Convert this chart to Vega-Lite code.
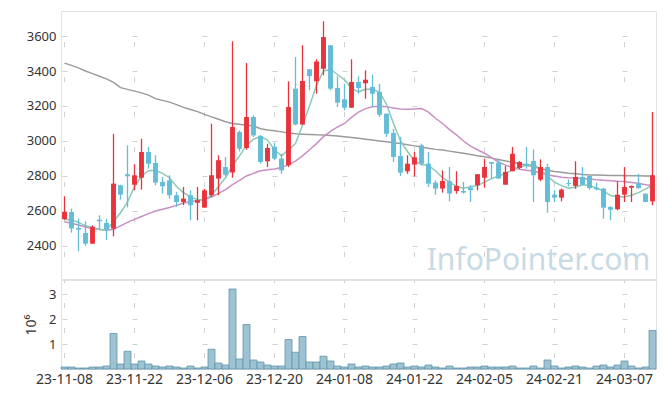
{
  "$schema": "https://vega.github.io/schema/vega-lite/v6.json",
  "padding": {"left": 24, "top": 10, "right": 8, "bottom": 0},
  "spacing": -3,
  "config": {
    "view": {"stroke": "#e2e2e2"},
    "font": "Noto Sans",
    "axis": {"labelFont": "Noto Sans", "labelColor": "#333333", "labelFontSize": 13, "gridColor": "#d0d0d0", "titleFont": "Noto Sans", "titleColor": "#333333"}
  },
  "data": {"values": [
    {"d":"23-11-08","o":2553,"h":2684,"l":2550,"c":2594,"v":80000,"m5":2553,"m20":2538,"m120":3445},
    {"d":"23-11-09","o":2594,"h":2613,"l":2476,"c":2500,"v":80000,"m5":2548,"m20":2530,"m120":3432},
    {"d":"23-11-10","o":2503,"h":2556,"l":2370,"c":2493,"v":40000,"m5":2535,"m20":2520,"m120":3418},
    {"d":"23-11-13","o":2474,"h":2541,"l":2400,"c":2413,"v":40000,"m5":2515,"m20":2508,"m120":3400},
    {"d":"23-11-14","o":2413,"h":2518,"l":2413,"c":2509,"v":80000,"m5":2505,"m20":2500,"m120":3385},
    {"d":"23-11-15","o":2550,"h":2575,"l":2493,"c":2541,"v":80000,"m5":2495,"m20":2494,"m120":3370},
    {"d":"23-11-16","o":2531,"h":2556,"l":2433,"c":2493,"v":120000,"m5":2490,"m20":2490,"m120":3355},
    {"d":"23-11-17","o":2499,"h":3041,"l":2455,"c":2756,"v":1420000,"m5":2540,"m20":2495,"m120":3335},
    {"d":"23-11-20","o":2747,"h":2750,"l":2665,"c":2693,"v":200000,"m5":2590,"m20":2515,"m120":3305},
    {"d":"23-11-21","o":2810,"h":2975,"l":2620,"c":2798,"v":710000,"m5":2650,"m20":2535,"m120":3295},
    {"d":"23-11-22","o":2750,"h":2867,"l":2718,"c":2804,"v":200000,"m5":2740,"m20":2552,"m120":3285},
    {"d":"23-11-23","o":2790,"h":3013,"l":2722,"c":2937,"v":320000,"m5":2800,"m20":2568,"m120":3275},
    {"d":"23-11-24","o":2937,"h":2966,"l":2842,"c":2870,"v":200000,"m5":2830,"m20":2585,"m120":3262},
    {"d":"23-11-27","o":2874,"h":2918,"l":2747,"c":2762,"v":120000,"m5":2833,"m20":2600,"m120":3242},
    {"d":"23-11-28","o":2766,"h":2794,"l":2699,"c":2741,"v":80000,"m5":2815,"m20":2610,"m120":3232},
    {"d":"23-11-29","o":2775,"h":2804,"l":2670,"c":2690,"v":120000,"m5":2790,"m20":2620,"m120":3222},
    {"d":"23-11-30","o":2690,"h":2709,"l":2623,"c":2651,"v":80000,"m5":2740,"m20":2632,"m120":3208},
    {"d":"23-12-01","o":2651,"h":2737,"l":2633,"c":2670,"v":40000,"m5":2705,"m20":2645,"m120":3192},
    {"d":"23-12-04","o":2690,"h":2718,"l":2547,"c":2633,"v":120000,"m5":2680,"m20":2652,"m120":3180},
    {"d":"23-12-05","o":2647,"h":2737,"l":2547,"c":2661,"v":40000,"m5":2665,"m20":2660,"m120":3168},
    {"d":"23-12-06","o":2619,"h":2727,"l":2619,"c":2718,"v":80000,"m5":2662,"m20":2667,"m120":3152},
    {"d":"23-12-07","o":2690,"h":3099,"l":2680,"c":2804,"v":790000,"m5":2690,"m20":2680,"m120":3138},
    {"d":"23-12-08","o":2785,"h":2918,"l":2690,"c":2890,"v":240000,"m5":2740,"m20":2700,"m120":3124},
    {"d":"23-12-11","o":2851,"h":2908,"l":2800,"c":2807,"v":160000,"m5":2790,"m20":2722,"m120":3110},
    {"d":"23-12-12","o":2820,"h":3570,"l":2790,"c":3080,"v":3200000,"m5":2860,"m20":2750,"m120":3100},
    {"d":"23-12-13","o":3051,"h":3060,"l":2940,"c":2956,"v":400000,"m5":2915,"m20":2775,"m120":3095},
    {"d":"23-12-14","o":2960,"h":3446,"l":2950,"c":3137,"v":1780000,"m5":2975,"m20":2800,"m120":3090},
    {"d":"23-12-15","o":3137,"h":3147,"l":3023,"c":3032,"v":360000,"m5":3010,"m20":2815,"m120":3086},
    {"d":"23-12-18","o":3029,"h":3035,"l":2870,"c":2880,"v":280000,"m5":3025,"m20":2830,"m120":3070},
    {"d":"23-12-19","o":2884,"h":2984,"l":2851,"c":2960,"v":160000,"m5":3005,"m20":2836,"m120":3063},
    {"d":"23-12-20","o":2966,"h":2990,"l":2890,"c":2899,"v":120000,"m5":2950,"m20":2840,"m120":3058},
    {"d":"23-12-21","o":2899,"h":2927,"l":2813,"c":2832,"v":120000,"m5":2915,"m20":2848,"m120":3052},
    {"d":"23-12-22","o":2861,"h":3341,"l":2851,"c":3194,"v":1180000,"m5":2950,"m20":2865,"m120":3046},
    {"d":"23-12-26","o":3299,"h":3480,"l":3090,"c":3094,"v":670000,"m5":2985,"m20":2885,"m120":3041},
    {"d":"23-12-27","o":3094,"h":3547,"l":3094,"c":3343,"v":1300000,"m5":3090,"m20":2915,"m120":3039},
    {"d":"23-12-28","o":3410,"h":3410,"l":3290,"c":3371,"v":280000,"m5":3200,"m20":2950,"m120":3037},
    {"d":"24-01-02","o":3341,"h":3467,"l":3270,"c":3455,"v":280000,"m5":3318,"m20":2985,"m120":3035},
    {"d":"24-01-03","o":3413,"h":3684,"l":3376,"c":3594,"v":510000,"m5":3400,"m20":3025,"m120":3034},
    {"d":"24-01-04","o":3547,"h":3547,"l":3290,"c":3299,"v":320000,"m5":3410,"m20":3055,"m120":3032},
    {"d":"24-01-05","o":3303,"h":3371,"l":3194,"c":3219,"v":120000,"m5":3380,"m20":3080,"m120":3028},
    {"d":"24-01-08","o":3238,"h":3327,"l":3175,"c":3190,"v":80000,"m5":3350,"m20":3100,"m120":3024},
    {"d":"24-01-09","o":3190,"h":3467,"l":3190,"c":3337,"v":200000,"m5":3300,"m20":3135,"m120":3020},
    {"d":"24-01-10","o":3337,"h":3370,"l":3270,"c":3303,"v":80000,"m5":3280,"m20":3165,"m120":3015},
    {"d":"24-01-11","o":3330,"h":3404,"l":3242,"c":3350,"v":120000,"m5":3295,"m20":3185,"m120":3010},
    {"d":"24-01-12","o":3309,"h":3380,"l":3194,"c":3270,"v":80000,"m5":3295,"m20":3195,"m120":3005},
    {"d":"24-01-15","o":3280,"h":3327,"l":3137,"c":3150,"v":80000,"m5":3280,"m20":3198,"m120":3000},
    {"d":"24-01-16","o":3156,"h":3156,"l":3023,"c":3041,"v":120000,"m5":3210,"m20":3195,"m120":2995},
    {"d":"24-01-17","o":3046,"h":3070,"l":2880,"c":2909,"v":200000,"m5":3100,"m20":3188,"m120":2990},
    {"d":"24-01-18","o":2914,"h":3023,"l":2800,"c":2819,"v":240000,"m5":3000,"m20":3183,"m120":2985},
    {"d":"24-01-19","o":2827,"h":2918,"l":2813,"c":2870,"v":80000,"m5":2940,"m20":3181,"m120":2978},
    {"d":"24-01-22","o":2865,"h":2937,"l":2798,"c":2907,"v":120000,"m5":2885,"m20":3183,"m120":2972},
    {"d":"24-01-23","o":2975,"h":2985,"l":2861,"c":2870,"v":80000,"m5":2865,"m20":3185,"m120":2966},
    {"d":"24-01-24","o":2870,"h":2937,"l":2737,"c":2756,"v":160000,"m5":2860,"m20":3165,"m120":2958},
    {"d":"24-01-25","o":2762,"h":2775,"l":2693,"c":2728,"v":80000,"m5":2830,"m20":3130,"m120":2952},
    {"d":"24-01-26","o":2728,"h":2832,"l":2705,"c":2771,"v":40000,"m5":2790,"m20":3100,"m120":2948},
    {"d":"24-01-29","o":2770,"h":2851,"l":2655,"c":2699,"v":120000,"m5":2765,"m20":3065,"m120":2942},
    {"d":"24-01-30","o":2714,"h":2827,"l":2699,"c":2743,"v":40000,"m5":2740,"m20":3035,"m120":2936},
    {"d":"24-01-31","o":2714,"h":2766,"l":2699,"c":2705,"v":40000,"m5":2730,"m20":3000,"m120":2930},
    {"d":"24-02-01","o":2733,"h":2747,"l":2651,"c":2719,"v":80000,"m5":2738,"m20":2970,"m120":2923},
    {"d":"24-02-02","o":2747,"h":2810,"l":2718,"c":2810,"v":80000,"m5":2745,"m20":2950,"m120":2916},
    {"d":"24-02-05","o":2790,"h":2899,"l":2733,"c":2851,"v":120000,"m5":2765,"m20":2930,"m120":2910},
    {"d":"24-02-06","o":2880,"h":2880,"l":2785,"c":2870,"v":80000,"m5":2785,"m20":2905,"m120":2902},
    {"d":"24-02-07","o":2876,"h":2890,"l":2785,"c":2785,"v":80000,"m5":2800,"m20":2880,"m120":2894},
    {"d":"24-02-08","o":2750,"h":2857,"l":2750,"c":2823,"v":80000,"m5":2815,"m20":2862,"m120":2886},
    {"d":"24-02-13","o":2827,"h":2966,"l":2827,"c":2927,"v":120000,"m5":2835,"m20":2848,"m120":2878},
    {"d":"24-02-14","o":2846,"h":2885,"l":2840,"c":2880,"v":40000,"m5":2851,"m20":2838,"m120":2870},
    {"d":"24-02-15","o":2870,"h":2966,"l":2842,"c":2860,"v":40000,"m5":2860,"m20":2833,"m120":2861},
    {"d":"24-02-16","o":2885,"h":2952,"l":2651,"c":2804,"v":120000,"m5":2870,"m20":2828,"m120":2852},
    {"d":"24-02-19","o":2779,"h":2895,"l":2770,"c":2851,"v":40000,"m5":2835,"m20":2818,"m120":2843},
    {"d":"24-02-20","o":2851,"h":2870,"l":2590,"c":2651,"v":360000,"m5":2800,"m20":2806,"m120":2832},
    {"d":"24-02-21","o":2693,"h":2718,"l":2651,"c":2676,"v":120000,"m5":2765,"m20":2800,"m120":2826},
    {"d":"24-02-22","o":2676,"h":2728,"l":2655,"c":2722,"v":40000,"m5":2745,"m20":2793,"m120":2821},
    {"d":"24-02-23","o":2760,"h":2780,"l":2740,"c":2755,"v":80000,"m5":2730,"m20":2790,"m120":2816},
    {"d":"24-02-26","o":2743,"h":2884,"l":2727,"c":2794,"v":120000,"m5":2735,"m20":2788,"m120":2812},
    {"d":"24-02-27","o":2794,"h":2851,"l":2747,"c":2750,"v":80000,"m5":2750,"m20":2786,"m120":2808},
    {"d":"24-02-28","o":2800,"h":2800,"l":2722,"c":2731,"v":40000,"m5":2745,"m20":2782,"m120":2806},
    {"d":"24-02-29","o":2733,"h":2762,"l":2718,"c":2724,"v":120000,"m5":2730,"m20":2778,"m120":2805},
    {"d":"24-03-04","o":2728,"h":2731,"l":2556,"c":2619,"v":160000,"m5":2715,"m20":2775,"m120":2804},
    {"d":"24-03-05","o":2623,"h":2627,"l":2547,"c":2607,"v":80000,"m5":2688,"m20":2773,"m120":2803},
    {"d":"24-03-06","o":2610,"h":2770,"l":2604,"c":2693,"v":160000,"m5":2682,"m20":2770,"m120":2802},
    {"d":"24-03-07","o":2693,"h":2851,"l":2651,"c":2737,"v":320000,"m5":2680,"m20":2768,"m120":2802},
    {"d":"24-03-08","o":2733,"h":2745,"l":2651,"c":2743,"v":120000,"m5":2690,"m20":2763,"m120":2801},
    {"d":"24-03-11","o":2756,"h":2813,"l":2727,"c":2731,"v":40000,"m5":2705,"m20":2758,"m120":2801},
    {"d":"24-03-12","o":2699,"h":2699,"l":2651,"c":2651,"v":80000,"m5":2725,"m20":2750,"m120":2800},
    {"d":"24-03-13","o":2655,"h":3166,"l":2633,"c":2804,"v":1540000,"m5":2747,"m20":2745,"m120":2800}
  ]},
  "vconcat": [
    {
      "width": 595,
      "height": 268,
      "encoding": {
        "x": {
          "field": "d", "type": "ordinal",
          "scale": {"type": "band", "paddingInner": 0, "paddingOuter": 0},
          "axis": {
            "title": null, "labels": false, "ticks": false, "domain": false, "minExtent": 0, "maxExtent": 0, "labelPadding": 0,
            "grid": true, "gridDash": [5, 30], "gridDashOffset": 4.4, "bandPosition": 0.5,
            "values": ["23-11-08","23-11-22","23-12-06","23-12-20","24-01-08","24-01-22","24-02-05","24-02-21","24-03-07"]
          }
        }
      },
      "layer": [
        {
          "mark": {"type": "line", "color": "#9b9b9b", "strokeWidth": 1.5},
          "encoding": {
            "y": {
              "field": "m120", "type": "quantitative",
              "scale": {"domain": [2211, 3743], "nice": false, "zero": false},
              "axis": {
                "title": null, "values": [2400, 2600, 2800, 3000, 3200, 3400, 3600], "format": "d",
                "ticks": false, "domain": false, "labelPadding": 5,
                "grid": true, "gridDash": [5, 65], "gridDashOffset": 69
              }
            }
          }
        },
        {
          "mark": {"type": "line", "color": "#c98fc4", "strokeWidth": 1.5},
          "encoding": {"y": {"field": "m20", "type": "quantitative", "scale": {"domain": [2211, 3743], "nice": false, "zero": false}}}
        },
        {
          "mark": {"type": "line", "color": "#8cc8b8", "strokeWidth": 1.5},
          "encoding": {"y": {"field": "m5", "type": "quantitative", "scale": {"domain": [2211, 3743], "nice": false, "zero": false}}}
        },
        {
          "mark": {"type": "rule", "strokeWidth": 1.3},
          "encoding": {
            "y": {"field": "l", "type": "quantitative", "scale": {"domain": [2211, 3743], "nice": false, "zero": false}},
            "y2": {"field": "h"},
            "color": {"condition": {"test": "datum.c >= datum.o", "value": "#e8323c"}, "value": "#62bdd7"}
          }
        },
        {
          "mark": {"type": "bar", "width": {"band": 0.7}},
          "encoding": {
            "y": {"field": "o", "type": "quantitative", "scale": {"domain": [2211, 3743], "nice": false, "zero": false}},
            "y2": {"field": "c"},
            "color": {"condition": {"test": "datum.c >= datum.o", "value": "#e8323c"}, "value": "#62bdd7"}
          }
        },
        {
          "data": {"values": [{"wm": "InfoPointer.com", "d": "24-02-16", "p": 2265}]},
          "mark": {"type": "text", "fontSize": 30, "font": "Noto Sans", "color": "#c8dae4", "align": "center", "baseline": "alphabetic", "dx": 5},
          "encoding": {
            "y": {"field": "p", "type": "quantitative", "scale": {"domain": [2211, 3743], "nice": false, "zero": false}},
            "text": {"field": "wm"}
          }
        }
      ]
    },
    {
      "width": 595,
      "height": 89,
      "mark": {"type": "bar", "fill": "#9dc3d3", "stroke": "#5f96ac", "strokeWidth": 0.8},
      "encoding": {
        "x": {
          "field": "d", "type": "ordinal",
          "scale": {"type": "band", "paddingInner": 0, "paddingOuter": 0},
          "axis": {
            "title": null, "ticks": false, "domain": false, "labelAngle": 0, "labelPadding": 3, "labelFontSize": 14,
            "grid": true, "gridDash": [5, 20], "gridDashOffset": 2.5, "bandPosition": 0.5,
            "values": ["23-11-08","23-11-22","23-12-06","23-12-20","24-01-08","24-01-22","24-02-05","24-02-21","24-03-07"]
          }
        },
        "y": {
          "field": "v", "type": "quantitative",
          "scale": {"domain": [0, 3560000], "nice": false},
          "axis": {
            "title": "10⁶", "titleFontWeight": "normal", "titleFontSize": 14, "titlePadding": 10,
            "values": [1000000, 2000000, 3000000], "labelExpr": "datum.value / 1000000",
            "ticks": false, "domain": false, "labelPadding": 5,
            "grid": true, "gridDash": [5, 65], "gridDashOffset": 69
          }
        }
      }
    }
  ]
}
